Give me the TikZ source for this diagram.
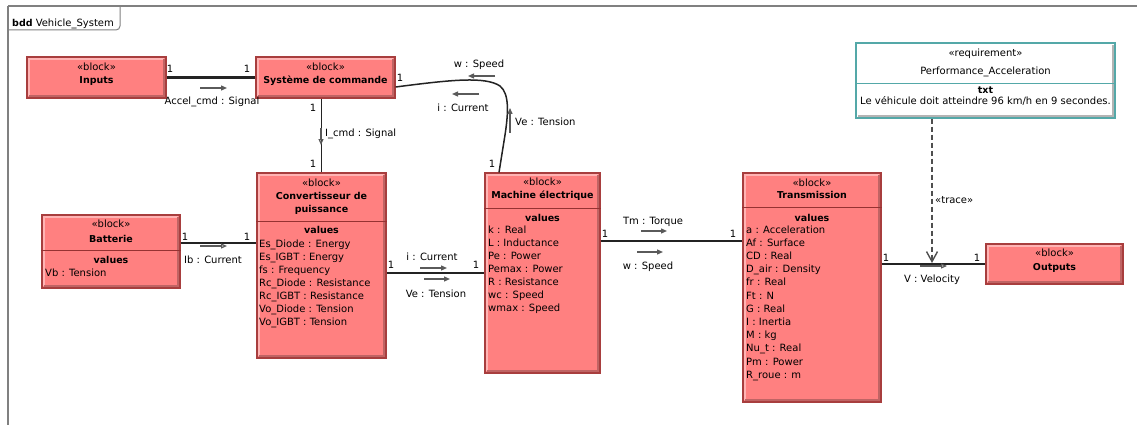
\documentclass[tikz,border=0pt]{standalone}
\usepackage{fontspec}
\setmainfont{DejaVu Sans}
\usetikzlibrary{arrows.meta}

\definecolor{blkfill}{RGB}{255,128,128}
\definecolor{blkedge}{RGB}{168,62,62}
\definecolor{blkhi}{RGB}{255,180,180}
\definecolor{blkshade}{RGB}{192,100,100}
\definecolor{blkrule}{RGB}{150,50,50}
\definecolor{reqedge}{RGB}{84,168,168}
\definecolor{reqshade}{RGB}{180,180,180}
\definecolor{framegray}{RGB}{128,128,128}
\definecolor{flowgray}{RGB}{90,90,90}
\definecolor{linkcol}{RGB}{35,35,35}

\tikzset{
  lbl/.style={font=\fontsize{10}{13.1}\selectfont, inner sep=0pt, anchor=base},
  lblb/.style={lbl, font=\fontsize{9.5}{13.1}\selectfont\bfseries},
  bevel/.style 2 args={path picture={
      \draw[#1, line width=1.6pt]
        ([xshift=2pt,yshift=2pt]path picture bounding box.south west) |-
        ([xshift=-2pt,yshift=-2pt]path picture bounding box.north east);
      \draw[#2, line width=2pt]
        ([xshift=2pt,yshift=2pt]path picture bounding box.south west) -|
        ([xshift=-2pt,yshift=-2pt]path picture bounding box.north east);
  }},
  blockbox/.style 2 args={rectangle, draw=blkedge, fill=blkfill, line width=1.2pt,
      inner sep=0pt, minimum width=#1pt, minimum height=#2pt, bevel={blkhi}{blkshade}},
  reqbox/.style 2 args={rectangle, draw=reqedge, fill=white, line width=1.2pt,
      inner sep=0pt, minimum width=#1pt, minimum height=#2pt, bevel={white}{reqshade}},
  divider/.style={blkrule, line width=1pt},
  link/.style={linkcol, line width=1.5pt},
  flow/.style={flowgray, line width=1.3pt, -{Triangle[length=6pt,width=5pt]}},
  flowopen/.style={flowgray, line width=1.2pt, -{Triangle[open,length=6pt,width=5pt]}},
  tracelink/.style={linkcol!80, line width=1.6pt, dash pattern=on 5pt off 3pt,
      -{Straight Barb[length=10pt,width=11pt,line width=1.4pt]}},
}

\begin{document}
\begin{tikzpicture}[x=1pt, y=-1pt]
\useasboundingbox (0,0) rectangle (1137,425);

% diagram frame and its name tab
\draw[framegray, line width=2pt] (8,425) -- (8,6);
\draw[framegray, line width=1.2pt] (8,6) -- (1137,6);
\draw[framegray, line width=1pt, rounded corners=4pt] (8,30) -| (120,6);
\node[lbl, anchor=base west] (hdr) at (12,27) {\textbf{\fontsize{9.5}{12}\selectfont bdd} Vehicle\_System};

% ---------- blocks ----------
\node[blockbox={139}{41}] (inputs) at (96.5,77.5) {};
\node[blockbox={139}{41}] (sys) at (325.5,77.5) {};
\node[blockbox={138}{73}] (batt) at (111,251.5) {};
\node[blockbox={129}{185}] (conv) at (321.5,265.5) {};
\node[blockbox={115}{200}] (mach) at (542.5,273) {};
\node[blockbox={138}{229}] (trans) at (812,287.5) {};
\node[blockbox={137}{40}] (outputs) at (1054.5,264) {};
\node[reqbox={259}{75}] (req) at (985.5,80.5) {};

% compartment rules
\draw[divider] (batt.west |- 0,250) -- (batt.east |- 0,250);
\draw[divider] (conv.west |- 0,221) -- (conv.east |- 0,221);
\draw[divider] (mach.west |- 0,208) -- (mach.east |- 0,208);
\draw[divider] (trans.west |- 0,207) -- (trans.east |- 0,207);
\draw[reqedge, line width=1pt] (req.west |- 0,84) -- (req.east |- 0,84);

% block headings
\node[lbl] (inputs-st) at (96.5,71) {«block»};
\node[lblb] (inputs-nm) at (96.5,84) {Inputs};
\node[lbl] (sys-st) at (325.5,71) {«block»};
\node[lblb] (sys-nm) at (325.5,84) {Système de commande};
\node[lbl] (batt-st) at (111,227) {«block»};
\node[lblb] (batt-nm) at (111,242) {Batterie};
\node[lblb] (batt-vl) at (111,263) {values};
\node[lbl, anchor=base west] (batt-v0) at (45,276) {Vb : Tension};
\node[lbl] (conv-st) at (321.5,186) {«block»};
\node[lblb] (conv-nm1) at (321.5,199) {Convertisseur de};
\node[lblb] (conv-nm2) at (321.5,212) {puissance};
\node[lblb] (conv-vl) at (321.5,233) {values};
\node[lbl] (mach-st) at (542.5,185) {«block»};
\node[lblb] (mach-nm) at (542.5,198) {Machine électrique};
\node[lblb] (mach-vl) at (542.5,221) {values};
\node[lbl] (trans-st) at (812,186) {«block»};
\node[lblb] (trans-nm) at (812,198) {Transmission};
\node[lblb] (trans-vl) at (812,221) {values};
\node[lbl] (outputs-st) at (1054.5,256) {«block»};
\node[lblb] (outputs-nm) at (1054.5,270) {Outputs};
\node[lbl] (req-st) at (985.5,57) {«requirement»};
\node[lbl] (req-nm) at (985.5,75) {Performance\_Acceleration};
\node[lblb] (req-tx) at (985.5,94) {txt};
\node[lbl] (req-body) at (985.5,105) {Le véhicule doit atteindre 96 km/h en 9 secondes.};

% value compartments
\foreach \t [count=\i from 0] in {Es\_Diode : Energy, Es\_IGBT : Energy, fs : Frequency,
    Rc\_Diode : Resistance, Rc\_IGBT : Resistance, Vo\_Diode : Tension, Vo\_IGBT : Tension}
  \node[lbl, anchor=base west] (conv-v\i) at (259,{247+13.1*\i}) {\t};
\foreach \t [count=\i from 0] in {k : Real, L : Inductance, Pe : Power, Pemax : Power,
    R : Resistance, wc : Speed, wmax : Speed}
  \node[lbl, anchor=base west] (mach-v\i) at (488,{233+13.1*\i}) {\t};
\foreach \t [count=\i from 0] in {a : Acceleration, Af : Surface, CD : Real, D\_air : Density,
    fr : Real, Ft : N, G : Real, I : Inertia, M : kg, Nu\_t : Real, Pm : Power, R\_roue : m}
  \node[lbl, anchor=base west] (trans-v\i) at (746,{233+13.2*\i}) {\t};

% ---------- connectors ----------
\draw[link, line width=2.4pt] (inputs.east) -- (sys.west);
\draw[link] (sys.south -| conv.north) -- (conv.north);
\coordinate (sysout) at ([yshift=-9.5pt]sys.east);
\coordinate (machin) at ([xshift=-43.5pt]mach.north);
\draw[link] (sysout) .. controls (450,80) and (485,76) .. (500,86)
  .. controls (510,94) and (508,115) .. (505,135) -- (machin);
\coordinate (battout) at ([yshift=8.5pt]batt.east);
\draw[link, line width=2pt] (battout) -- (battout -| conv.west);
\draw[link] (conv.east |- mach.west) -- (mach.west);
\coordinate (machout) at ([yshift=32pt]mach.east);
\draw[link] (machout) -- (machout -| trans.west);
\draw[link] (trans.east |- outputs.west) -- (outputs.west);
\coordinate (vflow) at (932,263);
\draw[tracelink] (req.south -| vflow) -- (vflow);

% multiplicities
\foreach \p [count=\i] in {(170,73), (247,73), (313,112), (313,167), (400,82), (492,167),
    (185,240), (247,240), (391,268), (476,268), (605,237), (733,237), (886,261), (977,261)}
  \node[lbl] (mult\i) at \p {1};

% item flows
\draw[flow] (200,88) -- (227,88);
\draw[flowopen] (321,128) -- (321,145);
\draw[flow] (495,76) -- (468,76);
\draw[flow] (479,94) -- (452,94);
\draw[flow] (510,133) -- (510,108);
\draw[flowopen] (200,246) -- (227,246);
\draw[flow] (420,268) -- (447,268);
\draw[flow] (424,279) -- (450,279);
\draw[flow] (641,231) -- (667,231);
\draw[flow] (637,252) -- (663,252);
\draw[flowopen] (920,266) -- (947,266);

% connector labels
\node[lbl] (accel) at (212,105) {Accel\_cmd : Signal};
\node[lbl, anchor=base west] (icmd) at (325,136) {I\_cmd : Signal};
\node[lbl] (wtop) at (479,68) {w : Speed};
\node[lbl] (itop) at (463,112) {i : Current};
\node[lbl, anchor=base west] (vetop) at (515,126) {Ve : Tension};
\node[lbl] (ib) at (213,263) {Ib : Current};
\node[lbl] (imid) at (432,260) {i : Current};
\node[lbl] (vemid) at (436,297) {Ve : Tension};
\node[lbl] (tm) at (653,224) {Tm : Torque};
\node[lbl] (wmid) at (648,269) {w : Speed};
\node[lbl] (vel) at (932,282) {V : Velocity};
\node[lbl, anchor=base west] (trace) at (935,203) {«trace»};
\end{tikzpicture}
\end{document}
